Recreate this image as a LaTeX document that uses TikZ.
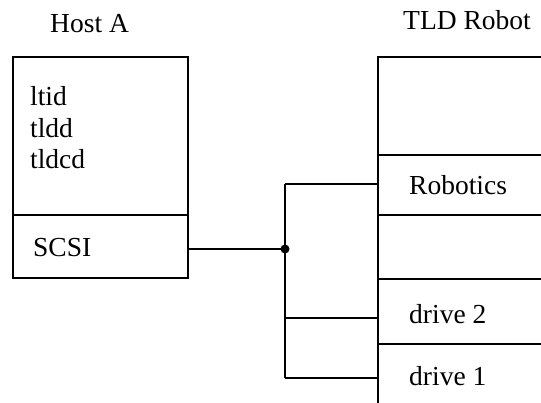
\documentclass[tikz,border=0pt]{standalone}
\usepackage{fontspec}
\setmainfont{Liberation Serif}
\begin{document}
\begin{tikzpicture}[x=1pt,y=-1pt,
  box/.style={draw,line width=1.2pt,inner sep=0pt,minimum width=0pt},
  lbl/.style={inner sep=0pt,anchor=base west,font=\fontsize{27.5}{32}\selectfont},
  wire/.style={line width=1.2pt}]
\useasboundingbox (0,0) rectangle (541,402);
\clip (0,0) rectangle (541,402);
\fill[white] (0,0) rectangle (541,402);
% Host A
\node[lbl] (hostlbl) at (50,32) {Host A};
\node[box,minimum width=175pt,minimum height=158pt] (hosttop) at (100.5,136) {};
\node[box,minimum width=175pt,minimum height=63pt] (scsi) at (100.5,246.5) {};
\node[lbl] (t1) at (30,105) {ltid};
\node[lbl] (t2) at (30,137) {tldd};
\node[lbl] (t3) at (30,168) {tldcd};
\node[lbl] (scsit) at (33,256) {SCSI};
% TLD Robot
\node[lbl] (robotlbl) at (403,29) {TLD Robot};
\node[box,minimum width=200pt,minimum height=98pt] (rtop) at (478,106) {};
\node[box,minimum width=200pt,minimum height=60pt] (robotics) at (478,185) {};
\node[box,minimum width=200pt,minimum height=64pt] (rempty) at (478,247) {};
\node[box,minimum width=200pt,minimum height=65pt] (drive2) at (478,311.5) {};
\node[box,minimum width=200pt,minimum height=80pt] (drive1) at (478,384) {};
\node[lbl] (robt) at (409,194) {Robotics};
\node[lbl] (d2t) at (409,323) {drive 2};
\node[lbl] (d1t) at (409,385) {drive 1};
% connectors
\coordinate (j) at (285,249);
\coordinate (b1) at (285,184);
\coordinate (b2) at (285,318);
\coordinate (b3) at (285,378);
\draw[wire] (scsi.east |- j) -- (j);
\draw[wire] (b1) -- (b3);
\draw[wire] (b1) -- (b1 -| robotics.west);
\draw[wire] (b2) -- (b2 -| drive2.west);
\draw[wire] (b3) -- (b3 -| drive1.west);
\fill (j) circle[radius=4.5pt];
\end{tikzpicture}
\end{document}
